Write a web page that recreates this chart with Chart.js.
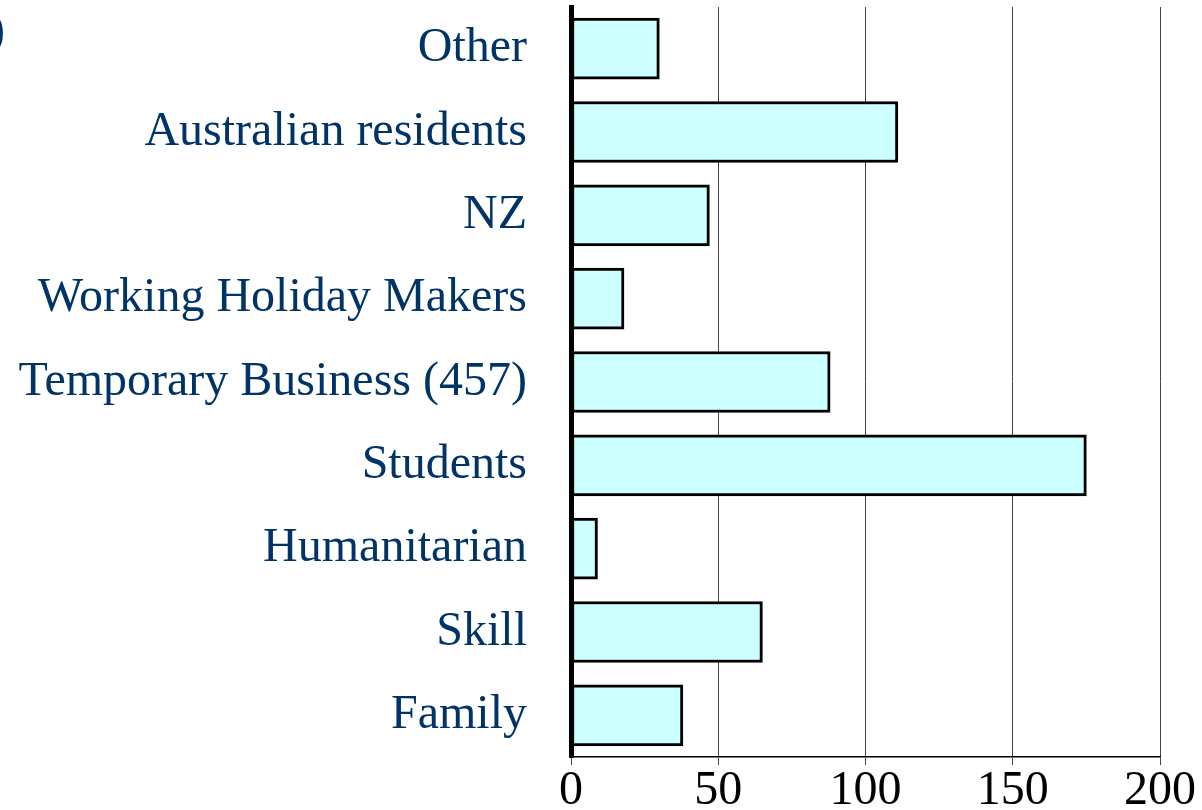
<!DOCTYPE html>
<html>
<head>
<meta charset="utf-8">
<script src="https://cdn.jsdelivr.net/npm/chart.js@4"></script>
<style>
  html, body { margin: 0; padding: 0; background: #ffffff; }
  #wrap { width: 1202px; height: 810px; position: relative; }
</style>
</head>
<body>
<div id="wrap"><canvas id="chart"></canvas></div>
<script>
const CATEGORIES = ["Other", "Australian residents", "NZ", "Working Holiday Makers",
  "Temporary Business (457)", "Students", "Humanitarian", "Skill", "Family"];
const VALUES = [30, 111, 47, 18, 88, 175, 9, 65, 38];
const X_TICKS = [0, 50, 100, 150, 200];

const FONT_FAMILY = "'Liberation Serif', 'Times New Roman', serif";
const LABEL_COLOR = "#003366";
const BAR_FILL = "#ccffff";

// cropped title remnant at the left edge
const edgeText = {
  id: "edgeText",
  afterDraw(chart) {
    const ctx = chart.ctx;
    ctx.save();
    ctx.font = "48px " + FONT_FAMILY;
    ctx.fillStyle = LABEL_COLOR;
    ctx.textBaseline = "alphabetic";
    ctx.fillText(")", -11, 45);
    ctx.restore();
  }
};

const config = {
  type: "bar",
  data: {
    labels: CATEGORIES,
    datasets: [{
      data: VALUES,
      backgroundColor: BAR_FILL,
      borderColor: "#000000",
      borderWidth: 3,
      borderSkipped: false,
      barThickness: 61,
    }],
  },
  options: {
    indexAxis: "y",
    responsive: true,
    maintainAspectRatio: false,
    animation: false,
    layout: { padding: { top: 7, right: 42, bottom: 0, left: 0 } },
    plugins: { legend: { display: false }, tooltip: { enabled: false } },
    scales: {
      x: {
        min: 0,
        max: 200,
        afterBuildTicks: (scale) => { scale.ticks = X_TICKS.map((v) => ({ value: v })); },
        afterFit: (scale) => {
          scale.height = 53;
          scale.paddingLeft = 0;
          scale.paddingRight = 0;
        },
        grid: { color: "#444444", lineWidth: 1, tickLength: 8, drawTicks: true },
        border: { color: "#000000", width: 1.5 },
        ticks: {
          color: "#000000",
          font: { family: FONT_FAMILY, size: 48 },
          padding: -2,
          maxRotation: 0,
        },
      },
      y: {
        afterFit: (scale) => {
          scale.width = 571;
          scale.paddingTop = 0;
          scale.paddingBottom = 0;
        },
        grid: {
          drawOnChartArea: false,
          tickLength: 8,
          color: (ctx) => (ctx.index === CATEGORIES.length ? "#000000" : "rgba(0,0,0,0)"),
        },
        border: { color: "#000000", width: 5 },
        ticks: {
          color: LABEL_COLOR,
          font: { family: FONT_FAMILY, size: 48 },
          padding: 36,
        },
      },
    },
  },
  plugins: [edgeText],
};

let chart = new Chart(document.getElementById("chart"), config);
</script>
</body>
</html>
